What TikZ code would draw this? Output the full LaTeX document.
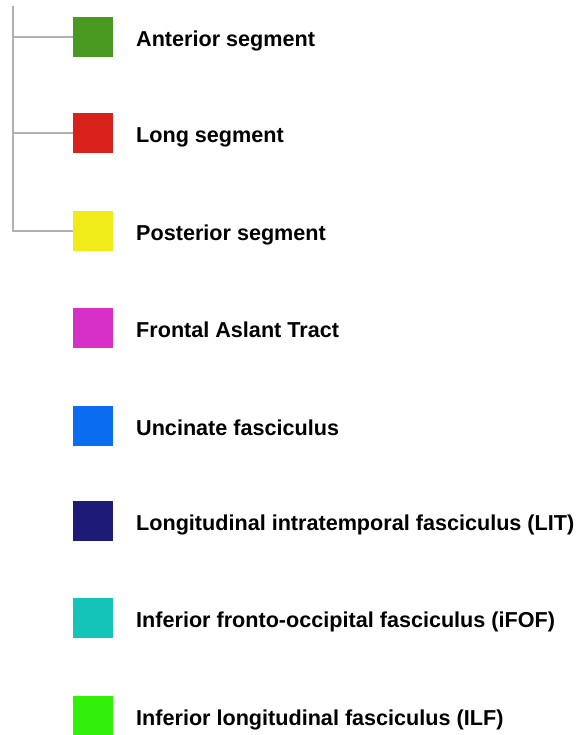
\documentclass[tikz,border=0pt]{standalone}
\usepackage{fontspec}
\setmainfont{Liberation Sans}
\definecolor{cA}{HTML}{4A9A22}
\definecolor{cB}{HTML}{D8211A}
\definecolor{cC}{HTML}{F0EC1A}
\definecolor{cD}{HTML}{D630C8}
\definecolor{cE}{HTML}{0A6CF0}
\definecolor{cF}{HTML}{1E1A78}
\definecolor{cG}{HTML}{14C4B8}
\definecolor{cH}{HTML}{33F00A}
\definecolor{lineg}{HTML}{B0B0B0}
\begin{document}
\begin{tikzpicture}[x=1pt,y=-1pt,
  swatch/.style={fill=#1, draw=none, minimum size=40pt, inner sep=0pt, anchor=center},
  lbl/.style={anchor=base west, inner sep=0pt, font=\fontsize{21.6}{24}\selectfont\bfseries},
  brk/.style={draw=lineg, line width=2.5pt}]
\useasboundingbox (0,0) rectangle (586,735);
\foreach \n/\c/\y/\t in {a/cA/37/Anterior segment,
  b/cB/133/Long segment,
  c/cC/231/Posterior segment,
  d/cD/328/Frontal Aslant Tract,
  e/cE/426/Uncinate fasciculus,
  f/cF/521/Longitudinal intratemporal fasciculus (LIT),
  g/cG/618/Inferior fronto-occipital fasciculus (iFOF),
  h/cH/716/Inferior longitudinal fasciculus (ILF)}{
  \node[swatch=\c] (s\n) at (93,\y) {};
  \node[lbl] (t\n) at (136,\y+9.5) {\t};
}
\coordinate (top) at (13,6);
\coordinate (ja) at (13,37);
\coordinate (jb) at (13,133);
\coordinate (jc) at (13,231);
\draw[brk] (top) -- (jc) -- (sc.west);
\draw[brk] (ja) -- (sa.west);
\draw[brk] (jb) -- (sb.west);
\end{tikzpicture}
\end{document}
